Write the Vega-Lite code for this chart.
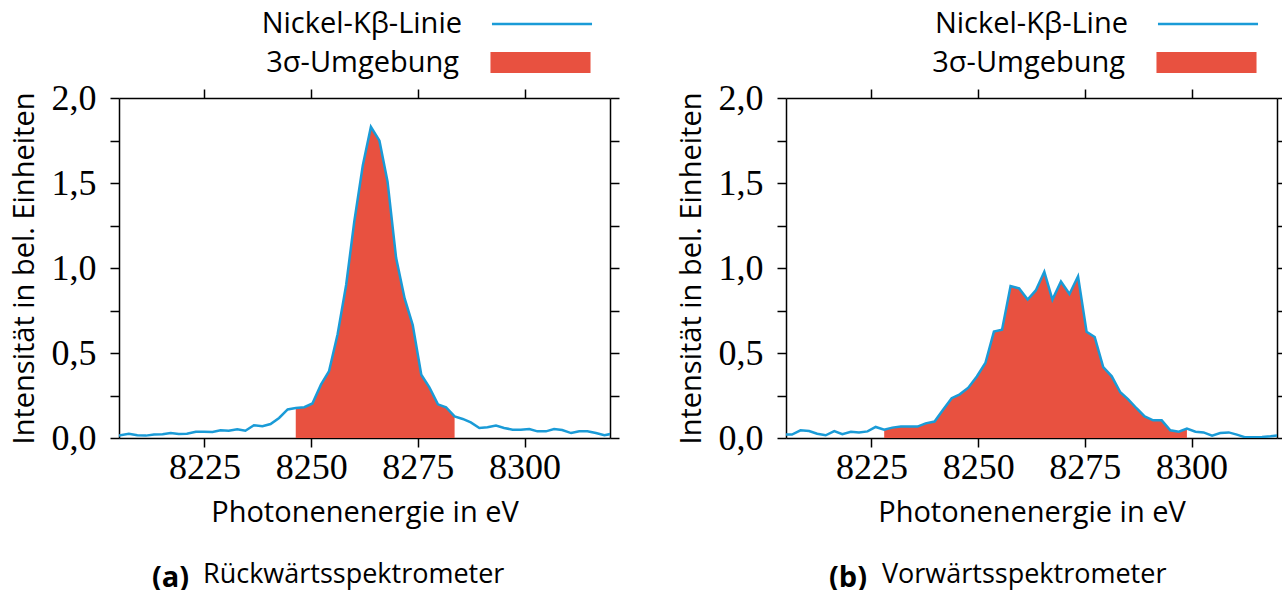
{
  "$schema": "https://vega.github.io/schema/vega-lite/v6.json",
  "background": "white",
  "padding": {"left": 10, "top": 8, "right": 0, "bottom": 6},
  "datasets": {
    "rueck": [
      {"E": 8204.9, "I": 0.014}, {"E": 8207.3, "I": 0.025}, {"E": 8209.3, "I": 0.016}, {"E": 8211.3, "I": 0.014},
      {"E": 8213.2, "I": 0.020}, {"E": 8215.2, "I": 0.022}, {"E": 8217.1, "I": 0.030}, {"E": 8219.0, "I": 0.024},
      {"E": 8220.9, "I": 0.025}, {"E": 8223.0, "I": 0.037}, {"E": 8224.9, "I": 0.037}, {"E": 8226.9, "I": 0.035},
      {"E": 8228.8, "I": 0.045}, {"E": 8230.7, "I": 0.043}, {"E": 8232.7, "I": 0.051}, {"E": 8234.6, "I": 0.043},
      {"E": 8236.6, "I": 0.075}, {"E": 8238.6, "I": 0.069}, {"E": 8240.5, "I": 0.082}, {"E": 8242.5, "I": 0.118},
      {"E": 8244.5, "I": 0.168}, {"E": 8246.4, "I": 0.176}, {"E": 8248.4, "I": 0.181}, {"E": 8250.3, "I": 0.203},
      {"E": 8252.3, "I": 0.314}, {"E": 8254.2, "I": 0.394}, {"E": 8256.2, "I": 0.610}, {"E": 8258.2, "I": 0.900},
      {"E": 8260.1, "I": 1.272}, {"E": 8262.1, "I": 1.603}, {"E": 8264.0, "I": 1.830}, {"E": 8266.0, "I": 1.749},
      {"E": 8267.9, "I": 1.508}, {"E": 8269.9, "I": 1.060}, {"E": 8271.9, "I": 0.821}, {"E": 8273.8, "I": 0.664},
      {"E": 8275.8, "I": 0.372}, {"E": 8277.7, "I": 0.298}, {"E": 8279.7, "I": 0.198}, {"E": 8281.6, "I": 0.181},
      {"E": 8283.6, "I": 0.127}, {"E": 8285.5, "I": 0.112}, {"E": 8287.4, "I": 0.092}, {"E": 8289.4, "I": 0.059},
      {"E": 8291.3, "I": 0.063}, {"E": 8293.3, "I": 0.073}, {"E": 8295.2, "I": 0.059}, {"E": 8297.2, "I": 0.049},
      {"E": 8299.1, "I": 0.049}, {"E": 8301.1, "I": 0.053}, {"E": 8303.0, "I": 0.039}, {"E": 8305.0, "I": 0.039},
      {"E": 8306.9, "I": 0.053}, {"E": 8308.8, "I": 0.047}, {"E": 8310.9, "I": 0.029}, {"E": 8312.8, "I": 0.039},
      {"E": 8314.7, "I": 0.039}, {"E": 8316.7, "I": 0.029}, {"E": 8318.7, "I": 0.016}, {"E": 8320.2, "I": 0.024}
    ],
    "vor": [
      {"E": 8204.9, "I": 0.020}, {"E": 8206.4, "I": 0.020}, {"E": 8208.4, "I": 0.045}, {"E": 8210.4, "I": 0.041},
      {"E": 8212.3, "I": 0.025}, {"E": 8214.3, "I": 0.016}, {"E": 8216.3, "I": 0.041}, {"E": 8218.2, "I": 0.022},
      {"E": 8220.2, "I": 0.037}, {"E": 8222.1, "I": 0.033}, {"E": 8224.1, "I": 0.039}, {"E": 8226.0, "I": 0.065},
      {"E": 8228.0, "I": 0.049}, {"E": 8229.9, "I": 0.061}, {"E": 8231.9, "I": 0.067}, {"E": 8233.8, "I": 0.067},
      {"E": 8235.8, "I": 0.067}, {"E": 8237.7, "I": 0.086}, {"E": 8239.8, "I": 0.097}, {"E": 8241.7, "I": 0.163},
      {"E": 8243.8, "I": 0.234}, {"E": 8245.7, "I": 0.257}, {"E": 8247.7, "I": 0.296}, {"E": 8249.7, "I": 0.362},
      {"E": 8251.7, "I": 0.441}, {"E": 8253.7, "I": 0.626}, {"E": 8255.6, "I": 0.637}, {"E": 8257.6, "I": 0.894},
      {"E": 8259.6, "I": 0.880}, {"E": 8261.6, "I": 0.814}, {"E": 8263.5, "I": 0.868}, {"E": 8265.5, "I": 0.978},
      {"E": 8267.4, "I": 0.814}, {"E": 8269.4, "I": 0.921}, {"E": 8271.4, "I": 0.847}, {"E": 8273.4, "I": 0.951},
      {"E": 8275.4, "I": 0.625}, {"E": 8277.3, "I": 0.594}, {"E": 8279.3, "I": 0.417}, {"E": 8281.3, "I": 0.363},
      {"E": 8283.3, "I": 0.269}, {"E": 8285.1, "I": 0.229}, {"E": 8287.1, "I": 0.175}, {"E": 8289.0, "I": 0.127},
      {"E": 8291.0, "I": 0.104}, {"E": 8293.0, "I": 0.104}, {"E": 8295.0, "I": 0.045}, {"E": 8297.0, "I": 0.037},
      {"E": 8298.9, "I": 0.055}, {"E": 8300.9, "I": 0.037}, {"E": 8302.8, "I": 0.033}, {"E": 8304.8, "I": 0.014},
      {"E": 8306.7, "I": 0.029}, {"E": 8308.7, "I": 0.033}, {"E": 8310.6, "I": 0.020}, {"E": 8312.6, "I": 0.004},
      {"E": 8314.6, "I": 0.004}, {"E": 8316.5, "I": 0.006}, {"E": 8318.5, "I": 0.010}, {"E": 8320.2, "I": 0.016}
    ]
  },
  "hconcat": [
    {
      "title": {"text": "Rückwärtsspektrometer", "orient": "bottom", "anchor": "start", "frame": "bounds", "dx": 193, "dy": -31, "offset": 0, "fontWeight": "normal"},
      "vconcat": [
        {
          "width": 491,
          "height": 340,
          "title": {"text": "(a)", "orient": "bottom", "anchor": "start", "frame": "group", "dx": 33, "offset": 37, "fontWeight": "bold", "fontSize": 29},
          "data": {"name": "rueck"},
          "layer": [
            {
              "transform": [{"filter": "datum.E >= 8246 && datum.E <= 8284"}],
              "mark": {"type": "area", "clip": true, "opacity": 1},
              "encoding": {
                "x": {"field": "E", "type": "quantitative", "scale": {"domain": [8205, 8320], "nice": false, "zero": false},
                      "axis": {"orient": "top", "labels": false, "title": null, "values": [8225, 8250, 8275, 8300]}},
                "y": {"field": "I", "type": "quantitative", "scale": {"domain": [0, 2], "nice": false},
                      "axis": {"orient": "right", "labels": false, "title": null, "values": [0, 0.25, 0.5, 0.75, 1, 1.25, 1.5, 1.75, 2]}},
                "fill": {"datum": "3σ-Umgebung", "scale": {"range": ["#e85140"]},
                         "legend": {"orient": "none", "legendX": 407, "legendY": -50, "title": null, "padding": 0,
                                    "symbolType": "M-3.45,-0.72H3.45V0.72H-3.45Z", "symbolSize": 841, "symbolStrokeWidth": 0, "symbolOpacity": 1,
                                    "symbolFillColor": "#e85140",
                                    "labelAlign": "right", "labelOffset": -96, "labelLimit": 400}}
              }
            },
            {
              "mark": {"type": "line", "clip": true, "strokeWidth": 2.5},
              "encoding": {
                "x": {"field": "E", "type": "quantitative", "scale": {"domain": [8205, 8320], "nice": false, "zero": false},
                      "axis": {"orient": "bottom", "format": "d", "values": [8225, 8250, 8275, 8300], "title": "Photonenenergie in eV"}},
                "y": {"field": "I", "type": "quantitative", "scale": {"domain": [0, 2], "nice": false},
                      "axis": {"orient": "left", "values": [0, 0.25, 0.5, 0.75, 1, 1.25, 1.5, 1.75, 2],
                               "labelExpr": "datum.value * 2 % 1 == 0 ? replace(format(datum.value, '.1f'), '.', ',') : ''",
                               "title": "Intensität in bel. Einheiten"}},
                "stroke": {"datum": "Nickel-Kβ-Linie", "scale": {"range": ["#1a9bd7"]},
                           "legend": {"orient": "none", "legendX": 407, "legendY": -90, "title": null, "padding": 0,
                                      "symbolType": "M-3.45,0H3.45", "symbolSize": 841, "symbolStrokeWidth": 2.5,
                                      "symbolStrokeColor": "#1a9bd7",
                                      "labelAlign": "right", "labelOffset": -96, "labelLimit": 400}}
              }
            }
          ],
          "resolve": {"axis": {"x": "independent", "y": "independent"}}
        }
      ],
      "resolve": {"scale": {"fill": "independent", "stroke": "independent"}, "legend": {"fill": "independent", "stroke": "independent"}}
    },
    {
      "title": {"text": "Vorwärtsspektrometer", "orient": "bottom", "anchor": "start", "frame": "bounds", "dx": 205, "dy": -31, "offset": 0, "fontWeight": "normal"},
      "vconcat": [
        {
          "width": 491,
          "height": 340,
          "title": {"text": "(b)", "orient": "bottom", "anchor": "start", "frame": "group", "dx": 43, "offset": 37, "fontWeight": "bold", "fontSize": 29},
          "data": {"name": "vor"},
          "layer": [
            {
              "transform": [{"filter": "datum.E >= 8227.5 && datum.E <= 8299.5"}],
              "mark": {"type": "area", "clip": true, "opacity": 1},
              "encoding": {
                "x": {"field": "E", "type": "quantitative", "scale": {"domain": [8205, 8320], "nice": false, "zero": false},
                      "axis": {"orient": "top", "labels": false, "title": null, "values": [8225, 8250, 8275, 8300]}},
                "y": {"field": "I", "type": "quantitative", "scale": {"domain": [0, 2], "nice": false},
                      "axis": {"orient": "right", "labels": false, "title": null, "values": [0, 0.25, 0.5, 0.75, 1, 1.25, 1.5, 1.75, 2]}},
                "fill": {"datum": "3σ-Umgebung", "scale": {"range": ["#e85140"]},
                         "legend": {"orient": "none", "legendX": 406, "legendY": -50, "title": null, "padding": 0,
                                    "symbolType": "M-3.45,-0.72H3.45V0.72H-3.45Z", "symbolSize": 841, "symbolStrokeWidth": 0, "symbolOpacity": 1,
                                    "symbolFillColor": "#e85140",
                                    "labelAlign": "right", "labelOffset": -96, "labelLimit": 400}}
              }
            },
            {
              "mark": {"type": "line", "clip": true, "strokeWidth": 2.5},
              "encoding": {
                "x": {"field": "E", "type": "quantitative", "scale": {"domain": [8205, 8320], "nice": false, "zero": false},
                      "axis": {"orient": "bottom", "format": "d", "values": [8225, 8250, 8275, 8300], "title": "Photonenenergie in eV"}},
                "y": {"field": "I", "type": "quantitative", "scale": {"domain": [0, 2], "nice": false},
                      "axis": {"orient": "left", "values": [0, 0.25, 0.5, 0.75, 1, 1.25, 1.5, 1.75, 2],
                               "labelExpr": "datum.value * 2 % 1 == 0 ? replace(format(datum.value, '.1f'), '.', ',') : ''",
                               "title": "Intensität in bel. Einheiten"}},
                "stroke": {"datum": "Nickel-Kβ-Line", "scale": {"range": ["#1a9bd7"]},
                           "legend": {"orient": "none", "legendX": 406, "legendY": -90, "title": null, "padding": 0,
                                      "symbolType": "M-3.45,0H3.45", "symbolSize": 841, "symbolStrokeWidth": 2.5,
                                      "symbolStrokeColor": "#1a9bd7",
                                      "labelAlign": "right", "labelOffset": -96, "labelLimit": 400}}
              }
            }
          ],
          "resolve": {"axis": {"x": "independent", "y": "independent"}}
        }
      ],
      "resolve": {"scale": {"fill": "independent", "stroke": "independent"}, "legend": {"fill": "independent", "stroke": "independent"}}
    }
  ],
  "spacing": 57,
  "resolve": {"scale": {"fill": "independent", "stroke": "independent", "x": "independent", "y": "independent"}, "legend": {"fill": "independent", "stroke": "independent"}},
  "config": {
    "view": {"stroke": null},
    "axis": {
      "grid": false,
      "domainColor": "black", "domainWidth": 1.5,
      "tickColor": "black", "tickWidth": 1.5, "tickSize": 9,
      "labelFont": "Liberation Serif", "labelFontSize": 36, "labelColor": "black",
      "titleFont": "Open Sans", "titleFontSize": 29, "titleFontWeight": "normal", "titleColor": "black"
    },
    "axisX": {"labelPadding": 3, "titlePadding": 13},
    "axisY": {"labelPadding": 14, "titlePadding": 12},
    "legend": {"labelFont": "Open Sans", "labelFontSize": 29, "labelColor": "black", "rowPadding": 0},
    "title": {"font": "Open Sans", "fontSize": 27, "color": "black"}
  }
}
